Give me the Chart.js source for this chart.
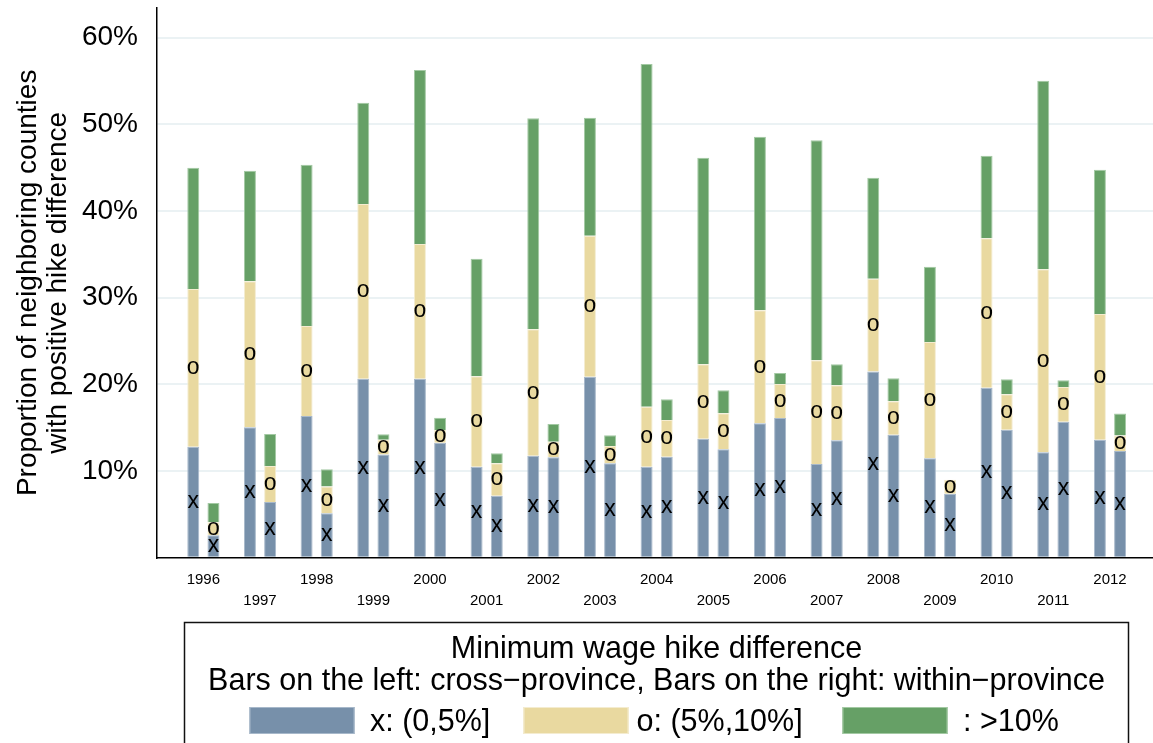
<!DOCTYPE html>
<html>
<head>
<meta charset="utf-8">
<script src="https://cdn.jsdelivr.net/npm/chart.js@4.4.1/dist/chart.umd.min.js"></script>
<style>
  html, body { margin: 0; padding: 0; background: #ffffff; }
  canvas { display: block; }
</style>
</head>
<body>
<canvas id="chart" width="1153" height="743" style="width:1153px;height:743px"></canvas>
<script>
// Years on the horizontal axis
const years = [1996, 1997, 1998, 1999, 2000, 2001, 2002, 2003, 2004, 2005, 2006, 2007, 2008, 2009, 2010, 2011, 2012];

// Left bars: cross-province neighbours (share of neighbouring counties, %)
const crossLow  = [12.8, 15.05, 16.35, 20.65, 20.65, 10.5, 11.77, 20.88, 10.5, 13.73, 15.5, 10.81, 21.5, 11.47, 19.62, 12.16, 13.62];
const crossMid  = [18.2, 16.85, 10.4, 20.15, 15.55, 10.43, 14.58, 16.27, 6.92, 8.58, 13.04, 11.96, 10.69, 13.42, 17.23, 21.11, 14.5];
const crossHigh = [14.0, 12.75, 18.6, 11.7, 20.07, 13.57, 24.35, 13.62, 39.54, 23.84, 20.04, 25.39, 11.66, 8.69, 9.53, 21.77, 16.65];

// Right bars: within-province neighbours (%)
const withinLow  = [2.6, 6.43, 5.12, 11.9, 13.27, 7.15, 11.58, 10.89, 11.65, 12.51, 16.12, 13.54, 14.19, 7.38, 14.77, 15.69, 12.3];
const withinMid  = [1.5, 4.15, 3.11, 1.7, 1.46, 3.75, 1.81, 2.0, 4.24, 4.15, 3.92, 6.35, 3.85, 1.62, 4.08, 4.01, 1.8];
const withinHigh = [2.2, 3.7, 1.97, 0.65, 1.42, 1.15, 2.04, 1.23, 2.38, 2.65, 1.27, 2.42, 2.66, 0, 1.73, 0.77, 2.55];

// Hike-difference bands: key labels and the symbol printed inside each segment
const bandLabels = ['x: (0,5%]', 'o: (5%,10%]', ': >10%'];
const bandMarks  = ['x', 'o', ''];

// Value-axis ticks (%)
const yTicks = [10, 20, 30, 40, 50, 60];

const axisTitle = ['Proportion of neighboring counties', 'with positive hike difference'];
const keyTitle = ['Minimum wage hike difference',
                  'Bars on the left: cross\u2212province, Bars on the right: within\u2212province'];

const FONT = '"Liberation Sans", Arial, Helvetica, sans-serif';
const fills = ['#7790aa', '#e9d9a0', '#66a066'];
const edges = ['#a7b8ca', '#f4ecd0', '#a3c9a3'];

function series(values, band, stack) {
  return {
    label: bandLabels[band],
    stack: stack,
    mark: bandMarks[band],
    data: years.map((yr, i) => ({ x: yr, y: values[i] })),
    backgroundColor: fills[band],
    borderColor: edges[band],
    borderWidth: 1,
    borderSkipped: 'start'
  };
}

// Prints the x / o symbol in the middle of each segment
const segmentMarks = {
  id: 'segmentMarks',
  afterDatasetsDraw(chart) {
    const ctx = chart.ctx;
    const size = 23;
    ctx.save();
    ctx.font = size + 'px ' + FONT;
    ctx.fillStyle = '#000';
    ctx.textAlign = 'center';
    ctx.textBaseline = 'alphabetic';
    chart.data.datasets.forEach((ds, di) => {
      if (!ds.mark) return;
      const meta = chart.getDatasetMeta(di);
      meta.data.forEach((el, i) => {
        if (!ds.data[i].y) return;
        const mid = (el.y + el.base) / 2;
        ctx.fillText(ds.mark, el.x, mid + 0.26 * size);
      });
    });
    ctx.restore();
  }
};

// Framed key under the plot
const keyBox = {
  id: 'keyBox',
  afterDraw(chart) {
    const ctx = chart.ctx;
    ctx.save();
    ctx.strokeStyle = '#111';
    ctx.lineWidth = 1.5;
    ctx.strokeRect(184.5, 622.5, 944, 140);
    ctx.fillStyle = '#000';
    ctx.font = '30.5px ' + FONT;
    ctx.textAlign = 'center';
    ctx.textBaseline = 'alphabetic';
    ctx.fillText(keyTitle[0], 656.5, 658);
    ctx.fillText(keyTitle[1], 656.5, 690);
    const swatchX = [249.5, 523.5, 842.5];
    const labelX = [370, 636.5, 963];
    ctx.textAlign = 'left';
    for (let b = 0; b < 3; b++) {
      ctx.fillStyle = fills[b];
      ctx.fillRect(swatchX[b], 707, 105, 27);
      ctx.strokeStyle = edges[b];
      ctx.lineWidth = 1;
      ctx.strokeRect(swatchX[b] + 0.5, 707.5, 104, 26);
      ctx.fillStyle = '#000';
      ctx.fillText(bandLabels[b], labelX[b], 731);
    }
    ctx.restore();
  }
};

new Chart(document.getElementById('chart'), {
  type: 'bar',
  data: {
    datasets: [
      series(crossLow, 0, 'cross'),
      series(crossMid, 1, 'cross'),
      series(crossHigh, 2, 'cross'),
      series(withinLow, 0, 'within'),
      series(withinMid, 1, 'within'),
      series(withinHigh, 2, 'within')
    ]
  },
  options: {
    responsive: false,
    animation: false,
    events: [],
    categoryPercentage: 0.7125,
    barPercentage: 0.594,
    layout: { padding: { top: 8, right: 0, bottom: 120.3, left: 0 } },
    plugins: { legend: { display: false }, tooltip: { enabled: false } },
    scales: {
      x: {
        type: 'linear',
        offset: false,
        min: 1995.173,
        max: 2012.759,
        grid: { display: false, drawTicks: false, offset: false },
        border: { display: true, color: '#000', width: 1.5 },
        afterFit(scale) {
          scale.height = 65;
          scale.paddingLeft = 0;
          scale.paddingRight = 0;
        },
        ticks: {
          stepSize: 1,
          includeBounds: false,
          autoSkip: false,
          maxRotation: 0,
          padding: 11.8,
          color: '#000',
          font: { family: FONT, size: 15, lineHeight: 1.4 },
          callback(v) {
            if (!years.includes(v)) return '';
            return v % 2 === 0 ? String(v) : ['', String(v)];
          }
        }
      },
      y: {
        stacked: true,
        min: 0,
        max: 63.43,
        afterFit(scale) {
          scale.width = 156.5;
          scale.paddingTop = 0;
          scale.paddingBottom = 0;
        },
        afterBuildTicks(scale) {
          scale.ticks = [0].concat(yTicks).map(v => ({ value: v }));
        },
        grid: {
          drawTicks: false,
          lineWidth: 2,
          color(c) { return c.tick && c.tick.value === 0 ? 'rgba(0,0,0,0)' : '#ebf2f4'; }
        },
        border: { display: true, color: '#000', width: 1.5 },
        ticks: {
          padding: 18.5,
          color: '#000',
          font: { family: FONT, size: 28 },
          callback(v) { return v === 0 ? '' : v + '%'; }
        },
        title: {
          display: true,
          text: axisTitle,
          color: '#000',
          font: { family: FONT, size: 28, lineHeight: 1.09 },
          padding: { top: 12.75, bottom: 0 }
        }
      }
    }
  },
  plugins: [segmentMarks, keyBox]
});
</script>
</body>
</html>
